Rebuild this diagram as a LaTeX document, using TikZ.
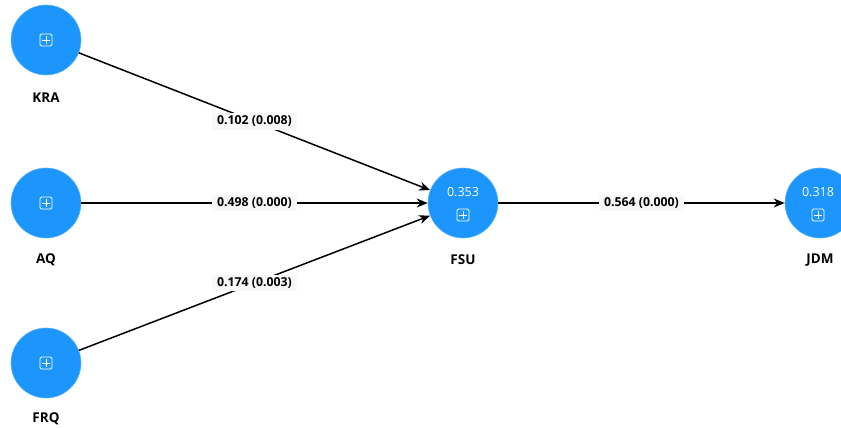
\documentclass[tikz,border=0pt]{standalone}
\usepackage{fontspec}
\setmainfont{Open Sans}
\usetikzlibrary{arrows.meta,calc}
\definecolor{latent}{RGB}{28,150,252}
\definecolor{lblbg}{RGB}{248,248,248}
\tikzset{
  construct/.style={circle, fill=latent, draw=latent!70!white, line width=0.6pt, minimum size=70pt, inner sep=0pt},
  cname/.style={font=\fontsize{13.5}{15}\selectfont\bfseries, text=black},
  path/.style={draw=black, line width=1.5pt, -{Stealth[length=11pt,width=9pt]}},
  coef/.style={fill=lblbg, font=\fontsize{12.3}{14}\selectfont\bfseries, inner xsep=5pt, inner ysep=3pt, text=black},
  rsq/.style={font=\fontsize{12.5}{14}\selectfont, text=white},
}
\newcommand{\plusicon}[1]{%
  \draw[white, line width=0.9pt, rounded corners=1.5pt] ($(#1)+(-6,-6)$) rectangle ($(#1)+(6,6)$);
  \draw[white, line width=0.9pt] ($(#1)+(-3.8,0)$) -- ($(#1)+(3.8,0)$) ($(#1)+(0,-3.8)$) -- ($(#1)+(0,3.8)$);
}
\begin{document}
\begin{tikzpicture}[x=1pt, y=-1pt]
\useasboundingbox (0,0) rectangle (841,428);
\clip (0,0) rectangle (841,428);

% constructs
\node[construct] (KRA) at (46,40) {};
\node[construct] (AQ)  at (46,203) {};
\node[construct] (FRQ) at (46,363) {};
\node[construct] (FSU) at (463,203) {};
\node[construct] (JDM) at (820,203) {};

% names below the circles
\node[cname] (KRAn) at (46,98) {KRA};
\node[cname] (AQn)  at (46,260) {AQ};
\node[cname] (FRQn) at (46,419) {FRQ};
\node[cname] (FSUn) at (463,260) {FSU};
\node[cname] (JDMn) at (820,260) {JDM};

% icons and R-squared values
\coordinate (iKRA) at (46,40);
\coordinate (iAQ) at (46,203);
\coordinate (iFRQ) at (46,363);
\coordinate (iFSU) at (463,215);
\coordinate (iJDM) at (818,215);
\plusicon{iKRA}
\plusicon{iAQ}
\plusicon{iFRQ}
\plusicon{iFSU}
\plusicon{iJDM}
\node[rsq] (rFSU) at (463,192) {0.353};
\node[rsq] (rJDM) at (818,192) {0.318};

% structural paths
\draw[path] (KRA) -- (FSU) node[coef, pos=0.5] (cKRA) {0.102 (0.008)};
\draw[path] (AQ) -- (FSU) node[coef, pos=0.5] (cAQ) {0.498 (0.000)};
\draw[path] (FRQ) -- (FSU) node[coef, pos=0.5] (cFRQ) {0.174 (0.003)};
\draw[path] (FSU) -- (JDM) node[coef, pos=0.5] (cFSU) {0.564 (0.000)};
\end{tikzpicture}
\end{document}
